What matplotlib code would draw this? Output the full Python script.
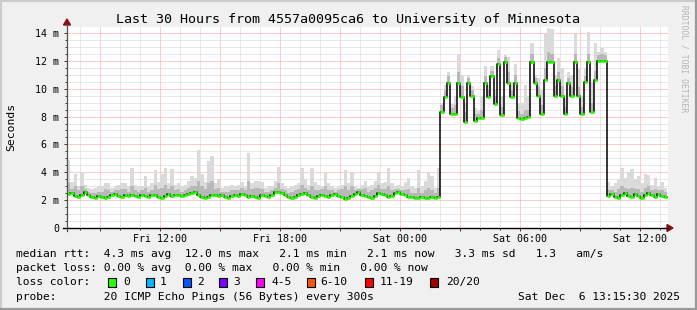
import datetime as dt
import numpy as np
import matplotlib
matplotlib.use("Agg")
import matplotlib.pyplot as plt
import matplotlib.dates as mdates
from matplotlib.ticker import MultipleLocator, FuncFormatter
from matplotlib.patches import Rectangle, Polygon
from matplotlib.lines import Line2D

W, H = 697, 310

# 10 minute samples, first one at Fri 07:21
start = dt.datetime(2025, 12, 5, 7, 21)
step_min = 10

# median rtt (ms)
median_ms = [
    2.45, 2.5, 2.3, 2.2, 2.4, 2.55, 2.35, 2.2, 2.15, 2.3, 2.2, 2.15,
    2.2, 2.35, 2.45, 2.3, 2.2, 2.4, 2.3, 2.4, 2.3, 2.25, 2.4, 2.3,
    2.2, 2.35, 2.4, 2.25, 2.15, 2.3, 2.45, 2.3, 2.35, 2.4, 2.3, 2.35,
    2.45, 2.5, 2.6, 2.4, 2.2, 2.15, 2.2, 2.35, 2.4, 2.3, 2.35, 2.2,
    2.15, 2.3, 2.4, 2.3, 2.45, 2.35, 2.25, 2.3, 2.2, 2.15, 2.35, 2.3,
    2.25, 2.4, 2.55, 2.6, 2.5, 2.4, 2.25, 2.15, 2.2, 2.35, 2.45, 2.5,
    2.35, 2.2, 2.15, 2.3, 2.4, 2.3, 2.2, 2.35, 2.45, 2.3, 2.2, 2.1,
    2.15, 2.3, 2.45, 2.55, 2.4, 2.3, 2.2, 2.15, 2.3, 2.5, 2.45, 2.35,
    2.2, 2.3, 2.5, 2.6, 2.45, 2.35, 2.25, 2.2, 2.15, 2.15, 2.2, 2.15,
    2.15, 2.2, 2.15, 2.2,
    8.3, 9.4, 10.4, 8.2, 8.2, 10.4, 9.4, 7.6, 10.4, 9.5, 7.7, 7.9,
    7.9, 10.4, 9.4, 10.9, 8.9, 11.8, 8.1, 11.9, 10.4, 9.4, 10.4, 7.9,
    7.8, 7.9, 8.0, 11.9, 10.4, 9.5, 8.2, 10.6, 11.9, 11.9, 9.5, 10.6,
    9.5, 8.2, 10.4, 9.5, 11.9, 9.5, 8.2, 10.5, 11.9, 8.3, 10.6, 12.0,
    12.0, 12.0,
    2.3, 2.45, 2.2, 2.15, 2.4, 2.5, 2.3, 2.2, 2.45, 2.3, 2.15, 2.35,
    2.5, 2.4, 2.2, 2.45, 2.3, 2.2,
]

# dense part of the smoke (upper edge, ms)
smoke_dense = [
    3.2, 2.8, 3.0, 2.7, 3.0, 2.8, 2.6, 2.5, 2.5, 2.6, 2.6, 2.8,
    2.7, 2.6, 2.7, 2.7, 2.8, 2.8, 2.6, 3.0, 2.7, 2.6, 2.7, 2.9,
    2.6, 2.7, 3.1, 2.8, 2.9, 3.1, 2.8, 3.0, 2.7, 2.8, 2.6, 2.7,
    2.9, 3.0, 3.0, 3.4, 3.0, 2.8, 3.2, 3.4, 2.8, 2.9, 2.6, 2.6,
    2.6, 2.7, 2.7, 2.7, 2.9, 2.7, 3.4, 2.8, 2.9, 2.9, 2.8, 2.6,
    2.6, 2.7, 2.9, 3.2, 2.8, 2.7, 2.5, 2.6, 2.7, 2.8, 3.1, 2.9,
    2.7, 3.0, 2.7, 2.7, 2.8, 3.0, 2.7, 2.7, 2.6, 2.7, 2.8, 3.0,
    2.7, 3.0, 2.7, 2.8, 2.8, 2.9, 2.6, 2.7, 2.9, 3.1, 2.8, 2.8,
    3.0, 2.7, 2.8, 2.8, 2.7, 2.7, 2.8, 2.5, 2.5, 2.9, 2.5, 2.7,
    2.9, 2.7, 2.5, 2.9,
    8.8, 9.9, 10.9, 8.6, 8.8, 11.2, 10.2, 8.3, 10.8, 9.9, 8.2, 8.2,
    8.5, 10.9, 9.9, 11.3, 9.5, 12.2, 8.7, 12.3, 11.2, 9.9, 11.0, 8.4,
    8.2, 8.5, 8.5, 12.5, 10.8, 10.1, 8.8, 11.5, 12.6, 12.5, 10.2, 11.2,
    10.2, 8.7, 10.8, 10.1, 12.5, 10.1, 8.7, 10.9, 12.5, 9.0, 11.3, 12.4,
    12.5, 12.4,
    2.7, 2.7, 2.6, 2.8, 3.0, 2.9, 2.8, 2.9, 2.8, 2.8, 2.6, 2.9,
    3.0, 2.7, 2.8, 2.7, 2.7, 2.6,
]

# highest ping of each sample (ms)
smoke_max = [
    4.9, 3.3, 3.9, 3.0, 4.0, 3.1, 2.9, 2.8, 2.9, 3.0, 3.0, 3.25,
    3.2, 2.9, 3.0, 3.1, 3.2, 3.2, 3.0, 4.3, 3.1, 3.0, 3.0, 3.75,
    3.0, 3.2, 4.15, 3.3, 3.9, 4.3, 3.2, 4.2, 3.1, 3.25, 3.0, 3.1,
    3.4, 3.7, 3.6, 5.6, 3.9, 3.3, 4.8, 5.2, 3.2, 3.5, 2.9, 3.0,
    3.0, 3.1, 3.0, 3.1, 3.3, 3.0, 5.4, 3.2, 3.4, 3.4, 3.3, 2.9,
    3.0, 3.0, 3.4, 4.4, 3.2, 3.0, 2.9, 3.0, 3.1, 3.2, 4.3, 3.5,
    3.1, 4.3, 3.3, 3.1, 3.0, 4.0, 3.2, 3.0, 2.9, 3.0, 3.1, 4.15,
    3.2, 4.0, 3.0, 2.9, 3.1, 3.4, 3.0, 3.1, 3.4, 4.0, 3.2, 3.3,
    4.3, 3.2, 3.0, 3.1, 3.0, 3.3, 3.6, 3.0, 2.9, 4.15, 3.0, 3.4,
    4.05, 3.7, 2.9, 4.3,
    9.0, 10.3, 11.2, 8.9, 9.5, 12.5, 11.0, 9.0, 11.0, 10.2, 8.6, 8.5,
    9.5, 11.6, 10.3, 11.6, 10.0, 12.8, 9.5, 12.4, 12.3, 10.4, 11.8, 9.0,
    9.0, 10.3, 9.5, 13.3, 11.0, 10.8, 10.0, 13.9, 14.35, 14.3, 11.0, 12.2,
    11.5, 9.3, 11.2, 11.0, 13.9, 11.4, 9.5, 11.5, 14.1, 10.5, 13.3, 12.6,
    12.9, 12.6,
    3.3, 3.0, 3.2, 3.5, 4.3, 3.6, 4.0, 4.2, 3.5, 3.7, 3.2, 3.9,
    3.8, 3.1, 3.6, 3.0, 3.3, 2.9,
]

y_ticks = [0, 2, 4, 6, 8, 10, 12, 14]

title = "Last 30 Hours from 4557a0095ca6 to University of Minnesota"
legend_rtt = "median rtt:  4.3 ms avg  12.0 ms max   2.1 ms min   2.1 ms now   3.3 ms sd   1.3   am/s"
legend_loss = "packet loss: 0.00 % avg  0.00 % max   0.00 % min   0.00 % now"
legend_probe = "probe:       20 ICMP Echo Pings (56 Bytes) every 300s"
stamp = "Sat Dec  6 13:15:30 2025"
loss_labels = ["0", "1", "2", "3", "4-5", "6-10", "11-19", "20/20"]
loss_colors = ["#26ff00", "#00b8ff", "#0059ff", "#7e00ff", "#ff00ff",
               "#ff5500", "#ff0000", "#a10000"]
loss_box_x = [108, 146, 183, 219, 256, 307, 365, 430]
loss_txt_x = [123, 160, 197, 233, 271, 320, 380, 446]

plt.rcParams['font.family'] = ['DejaVu Sans Mono']

def P(x, y):
    # pixel -> figure fraction
    return x / W, 1 - y / H

fig = plt.figure(figsize=(W / 100, H / 100), dpi=100, facecolor='#f0f0f0')
ax = fig.add_axes([67 / W, 1 - 228 / H, 601 / W, 201 / H])
ax.set_facecolor('white')

t0 = mdates.date2num(start)
w = step_min / 1440.0
t = t0 + w * np.arange(len(median_ms))
te = np.append(t, t[-1] + w)
med = np.array(median_ms)
me = np.append(med, med[-1])
de = np.append(smoke_dense, smoke_dense[-1])
he = np.append(smoke_max, smoke_max[-1])

# smoke
ax.fill_between(te, me, he, step='post', color='#dadada', lw=0, zorder=2)
ax.fill_between(te, me, de, step='post', color='#b8b8b8', lw=0, zorder=3)
# median
ax.step(te, me, where='post', color='black', lw=1.1, zorder=4)
ax.hlines(med, t, t + w, color='#26ff00', lw=2.0, zorder=5)

ax.set_xlim(t0, t0 + 30.05 / 24)
ax.set_ylim(0, 14.43)
ax.xaxis_date()

ax.xaxis.set_major_locator(mdates.HourLocator(byhour=range(0, 24, 3)))
ax.xaxis.set_minor_locator(mdates.HourLocator())

def xfmt(v, pos):
    d = mdates.num2date(v)
    return d.strftime('%a %H:%M') if d.hour % 6 == 0 else ''

ax.xaxis.set_major_formatter(FuncFormatter(xfmt))
ax.set_yticks(y_ticks)
ax.yaxis.set_minor_locator(MultipleLocator(0.5))
ax.yaxis.set_major_formatter(FuncFormatter(lambda v, p: '0' if v == 0 else '%d m' % v))

ax.set_axisbelow(True)
ax.grid(which='minor', color='#d2d2d2', ls=(0, (1, 1)), lw=0.72)
ax.grid(which='major', color='#ff9898', ls=(0, (1, 1)), lw=0.72)

ax.tick_params(which='both', labelsize=7.2, colors='#404040', labelcolor='black', width=0.72)
ax.tick_params(axis='y', which='major', length=2.2, pad=3.5)
ax.tick_params(axis='y', which='minor', length=1.5)
ax.tick_params(axis='x', which='major', length=2.2, pad=1.8)
ax.tick_params(axis='x', which='minor', length=1.5)
for s in ax.spines.values():
    s.set_visible(False)

# axes with arrows
fig.add_artist(Line2D(*zip(P(67, 231), P(67, 24)), color='#505050', lw=0.9))
fig.add_artist(Line2D(*zip(P(63, 228), P(668, 228)), color='black', lw=1.0))
fig.add_artist(Polygon([P(67, 19), P(63.5, 25), P(70.5, 25)], closed=True,
                       color='#8b1010', transform=fig.transFigure))
fig.add_artist(Polygon([P(673, 228), P(667, 224.5), P(667, 231.5)], closed=True,
                       color='#8b1010', transform=fig.transFigure))

# frame shading
fig.add_artist(Line2D([0, 1], [1 - 1 / H, 1 - 1 / H], color='#cbcbcb', lw=1.5))
fig.add_artist(Line2D([1 / W, 1 / W], [0, 1], color='#cbcbcb', lw=1.5))
fig.add_artist(Line2D([0, 1], [1.2 / H, 1.2 / H], color='#999999', lw=1.6))
fig.add_artist(Line2D([1 - 1.2 / W, 1 - 1.2 / W], [0, 1], color='#999999', lw=1.6))

fig.text(*P(348, 19), title, ha='center', va='center', fontsize=9.6)
fig.text(*P(11, 127), 'Seconds', rotation=90, ha='center', va='center', fontsize=8.2)
fig.text(*P(684, 5), 'RRDTOOL / TOBI OETIKER', rotation=270, ha='center', va='top',
         fontsize=5.8, color='#b4b4b4')

fs = 8.1
fig.text(*P(16, 254), legend_rtt, ha='left', va='center', fontsize=fs)
fig.text(*P(16, 268), legend_loss, ha='left', va='center', fontsize=fs)
fig.text(*P(16, 282), 'loss color:', ha='left', va='center', fontsize=fs)
for bx, tx, lab, col in zip(loss_box_x, loss_txt_x, loss_labels, loss_colors):
    x0, y0 = P(bx, 286.5)
    fig.add_artist(Rectangle((x0, y0), 8 / W, 9 / H, facecolor=col, edgecolor='black',
                             lw=0.8, transform=fig.transFigure))
    fig.text(*P(tx, 282), lab, ha='left', va='center', fontsize=fs)
fig.text(*P(16, 297), legend_probe, ha='left', va='center', fontsize=fs)
fig.text(*P(680, 297), stamp, ha='right', va='center', fontsize=fs)

fig.savefig('out.png', dpi=100, facecolor=fig.get_facecolor())
